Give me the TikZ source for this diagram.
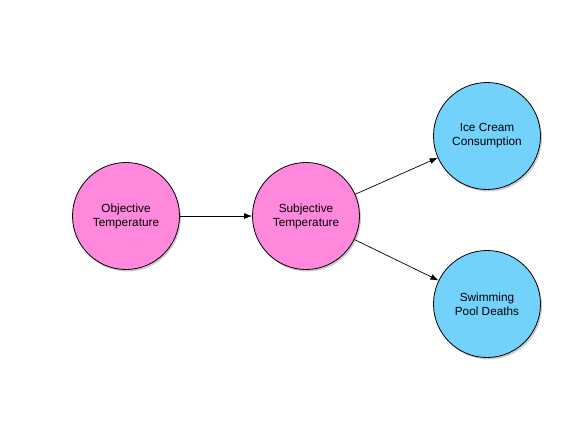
\documentclass[tikz,border=0pt]{standalone}
\usepackage{fontspec}
\setmainfont{Liberation Sans}
\usetikzlibrary{shadows,arrows.meta}
\definecolor{pinkfill}{RGB}{255,136,221}
\definecolor{bluefill}{RGB}{115,210,252}
\tikzset{
  vnode/.style={circle, draw=black, line width=0.8pt, minimum size=107pt, inner sep=0pt,
    align=center, font=\fontsize{11.8}{14}\selectfont,
    drop shadow={shadow xshift=1.5pt, shadow yshift=-2pt, opacity=0.4}},
  pinknode/.style={vnode, fill=pinkfill},
  bluenode/.style={vnode, fill=bluefill},
  conn/.style={draw=black, line width=0.7pt, -{Latex[length=8pt,width=6pt]}}
}
\begin{document}
\begin{tikzpicture}[x=1pt,y=-1pt]
\useasboundingbox[fill=white] (0,0) rectangle (576,432);
\node[pinknode] (obj) at (126,216) {Objective\\Temperature};
\node[pinknode] (subj) at (306,216) {Subjective\\Temperature};
\node[bluenode] (ice) at (487,136) {Ice Cream\\Consumption};
\node[bluenode] (pool) at (487,304) {Swimming\\Pool Deaths};
\draw[conn] (obj) -- (subj);
\draw[conn] (subj) -- (ice);
\draw[conn] (subj) -- (pool);
\end{tikzpicture}
\end{document}
